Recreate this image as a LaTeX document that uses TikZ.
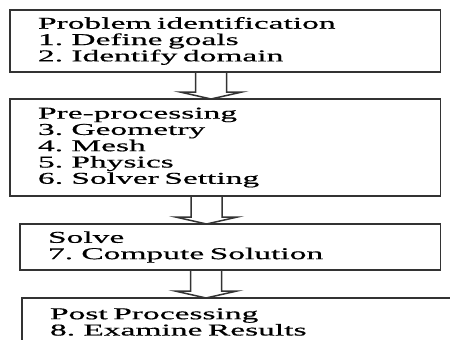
\documentclass[tikz,border=0pt]{standalone}
\usepackage{fontspec}
\setmainfont{Liberation Serif}[FakeStretch=2.03,FakeBold=0.6]
\usetikzlibrary{positioning,calc}

% hollow block arrow from the bottom of one stage to the top of the next
\newcommand{\flowarrow}[3]{%
  \draw[flow] let \p1=(#1.south), \p2=(#2.north) in
    (#3-15.5pt,\y1) -- (#3-15.5pt,\y2+7pt) -- (#3-31pt,\y2+7pt) -- (#3,\y2)
    -- (#3+31pt,\y2+7pt) -- (#3+15.5pt,\y2+7pt) -- (#3+15.5pt,\y1);}

\begin{document}
\begin{tikzpicture}[
    stage/.style={draw=black!80,line width=1.8pt,rectangle,anchor=north west,
      align=left,inner xsep=28pt,inner ysep=0pt,outer sep=0pt,
      font=\fontsize{16.5}{16.3}\selectfont,text=black},
    flow/.style={draw=black!80,line width=1.5pt,line join=miter}
    ]
    \useasboundingbox (0pt,0pt) rectangle (450pt,-340pt);
    \clip (0pt,0pt) rectangle (450pt,-340pt);

    \node (ident) [stage,text width=374.5pt,minimum height=62pt] at (10pt,-10pt)
      {Problem identification\\1. Define goals\\2. Identify domain};
    \node (pre) [stage,text width=374.5pt,minimum height=97pt] at (10pt,-99pt)
      {Pre-processing\\3. Geometry\\4. Mesh\\5. Physics\\6. Solver Setting};
    \node (solve) [stage,text width=364.5pt,minimum height=46pt] at (20pt,-224pt)
      {Solve\\7. Compute Solution};
    \node (post) [stage,text width=386pt,minimum height=48pt] at (22pt,-298pt)
      {Post Processing\\8. Examine Results};

    % the arrows
    \flowarrow{ident}{pre}{211pt}
    \flowarrow{pre}{solve}{206.5pt}
    \flowarrow{solve}{post}{206pt}
\end{tikzpicture}
\end{document}
